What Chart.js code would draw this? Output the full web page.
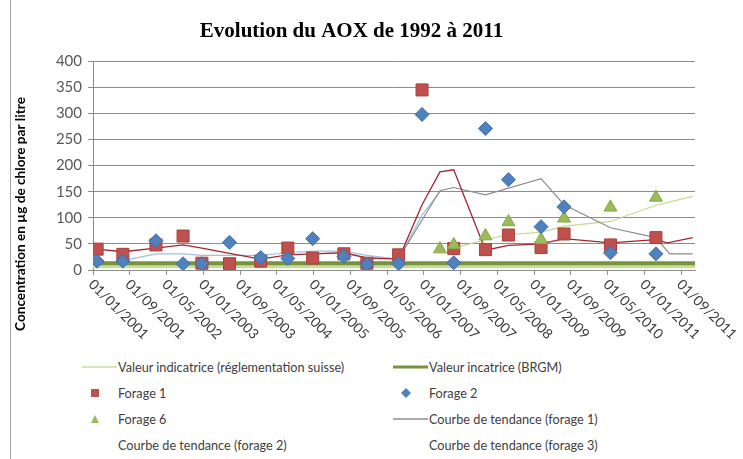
<!DOCTYPE html>
<html>
<head>
<meta charset="utf-8">
<script src="https://cdn.jsdelivr.net/npm/chart.js@4.4.1/dist/chart.umd.min.js"></script>
<style>
  body { margin: 0; background: #fff; }
  #wrap { position: relative; width: 743px; height: 459px; overflow: hidden; }
  #frame { position: absolute; left: 10px; top: 0; width: 1px; height: 459px; background: #a6a6a6; }
  #chart { position: absolute; left: 0; top: 0; }
  #legend { position: absolute; left: 0; top: 355px; width: 743px; font: 12.7px Lato, sans-serif; color: #404040; }
  .item { position: absolute; height: 20px; line-height: 20px; white-space: nowrap; }
  .item canvas { position: absolute; left: 0; top: 0; }
  .item span { position: absolute; left: 36px; top: 0; }
</style>
</head>
<body>
<div id="wrap">
  <canvas id="chart" width="743" height="355"></canvas>
  <div id="legend"></div>
  <div id="frame"></div>
</div>
<script>
// x values are months counted from 01/01/2001
var sampleMonths = [0.9, 6.5, 13.7, 19.6, 23.7, 29.7, 36.5, 42.4, 47.8, 54.6, 59.6, 66.5, 71.6, 75.5, 78.5, 85.4, 90.4, 97.5, 102.5, 112.6, 122.5];
var forage1 = [40, 30, 48, 65, 13, 12, 17, 42, 23, 31, 13, 29, 345, null, 41, 39, 67, 43, 69, 48, 62];
var forage2 = [17, 17, 56, 12, 12, 53, 24, 22, 60, 26, 11, 12, 298, null, 14, 271, 173, 83, 121, 33, 31];
var forage6 = [null, null, null, null, null, null, null, null, null, null, null, null, null, 40, 48, 65, 92, 58, 99, 120, 139];

// trend curves
var trend1Months = [0.9, 6.5, 13.7, 19.6, 23.7, 29.7, 36.5, 42.4, 47.8, 54.6, 59.6, 66.5, 71.6, 75.5, 78.5, 85.4, 90.4, 97.5, 102.5, 112.6, 122.5, 125, 130.5];
var trend1Values = [40, 35, 42, 48, 42, 32, 21, 29, 31, 33, 23, 21, 125, 188, 192, 38, 47, 50, 60, 52, 58, 52, 62];
var trendGrayMonths = [66.5, 75.5, 78.5, 85.4, 97.5, 102.5, 112.6, 122.5, 125.5, 130.5];
var trendGrayValues = [22, 152, 158, 144, 175, 125, 81, 62, 31, 31];
var trend2Months = [6.5, 13.7, 19.6, 23.7, 36.5, 42.4, 47.8, 54.6, 59.6, 66.5, 71.6, 75.5];
var trend2Values = [18, 31, 31, 28, 28, 33, 36, 36, 28, 21, 105, 150];
var trend3Months = [78.5, 85.4, 90.4, 97.5, 102.5, 112.6, 122.5, 130.5];
var trend3Values = [42, 58, 68, 72, 84, 93, 124, 141];

// reference levels
var axisMonths = [0, 131];
var valeurSuisse = [7, 7];
var valeurBRGM = [13, 13];

var xTickLabels = ['01/01/2001', '01/09/2001', '01/05/2002', '01/01/2003', '01/09/2003', '01/05/2004',
  '01/01/2005', '01/09/2005', '01/05/2006', '01/01/2007', '01/09/2007', '01/05/2008',
  '01/01/2009', '01/09/2009', '01/05/2010', '01/01/2011', '01/09/2011'];

function pts(xs, ys) {
  var out = [];
  for (var i = 0; i < xs.length; i++) {
    if (ys[i] !== null) out.push({ x: xs[i], y: ys[i] });
  }
  return out;
}

function lineSet(label, xs, ys, color, width, order, legendSample) {
  return {
    label: label, data: pts(xs, ys), showLine: true, borderColor: color, backgroundColor: color,
    borderWidth: width, pointRadius: 0, order: order, legendSample: legendSample
  };
}

var datasets = [
  lineSet('Valeur indicatrice (réglementation suisse)', axisMonths, valeurSuisse, '#c9dc9e', 4, 12, 'line'),
  lineSet('Valeur incatrice (BRGM)', axisMonths, valeurBRGM, '#77933c', 4, 11, 'line'),
  { label: 'Forage 1', data: pts(sampleMonths, forage1), pointStyle: 'rect', pointRadius: 8.5,
    backgroundColor: '#c0504d', borderColor: '#a8403d', borderWidth: 1, order: 3, legendSample: 'rect' },
  { label: 'Forage 2', data: pts(sampleMonths, forage2), pointStyle: 'rectRot', pointRadius: 7,
    backgroundColor: '#4f81bd', borderColor: '#3f6ea8', borderWidth: 1, order: 1, legendSample: 'rectRot' },
  { label: 'Forage 6', data: pts(sampleMonths, forage6), pointStyle: 'triangle', pointRadius: 7.5,
    backgroundColor: '#9bbb59', borderColor: '#88a74a', borderWidth: 1, order: 2, legendSample: 'triangle' },
  lineSet('Courbe de tendance (forage 1)', trendGrayMonths, trendGrayValues, '#8c8c8c', 1.2, 6, 'line'),
  lineSet('Courbe de tendance (forage 2)', trend2Months, trend2Values, '#9cc0e4', 1.2, 7, 'none'),
  lineSet('Courbe de tendance (forage 3)', trend3Months, trend3Values, '#c4d890', 1.2, 8, 'none'),
  lineSet('', trend1Months, trend1Values, '#a3262c', 1.3, 5, 'none')
];

// rotated date labels and the y title, drawn over the chart
var extraText = {
  id: 'extraText',
  afterDraw: function(chart) {
    var ctx = chart.ctx;
    var xs = chart.scales.x;
    ctx.save();
    ctx.font = '14px Lato';
    ctx.fillStyle = '#404040';
    ctx.textAlign = 'left';
    ctx.textBaseline = 'middle';
    xs.ticks.forEach(function(t, i) {
      var px = xs.getPixelForValue(t.value);
      ctx.save();
      ctx.translate(px - 2, xs.top + 12);
      ctx.rotate(Math.PI / 4);
      ctx.fillText(xTickLabels[i] || '', 0, 0);
      ctx.restore();
    });
    ctx.translate(21, 214);
    ctx.rotate(-Math.PI / 2);
    ctx.textAlign = 'center';
    ctx.font = 'bold 13.6px Lato';
    ctx.fillStyle = '#000';
    ctx.fillText('Concentration en µg de chlore par litre', 0, 0);
    ctx.restore();
  }
};

var chart = new Chart(document.getElementById('chart'), {
  type: 'scatter',
  data: { datasets: datasets },
  options: {
    responsive: false,
    animation: false,
    devicePixelRatio: 1,
    layout: { padding: { left: 8, right: 48, top: 0, bottom: 0 } },
    plugins: {
      legend: { display: false },
      tooltip: { enabled: false },
      title: {
        display: true,
        text: 'Evolution du AOX de 1992 à 2011',
        color: '#000',
        font: { family: 'Liberation Serif', size: 21, weight: 'bold' },
        padding: { top: 19, bottom: 17 }
      }
    },
    scales: {
      x: {
        type: 'linear', min: 0, max: 131,
        ticks: { stepSize: 8, includeBounds: false, display: false },
        grid: { drawOnChartArea: false, drawTicks: true, tickLength: 5, color: '#8c8c8c' },
        border: { color: '#8c8c8c' },
        afterFit: function(s) { s.height = 85; }
      },
      y: {
        min: 0, max: 400,
        ticks: { stepSize: 50, color: '#595959', font: { family: 'Lato', size: 15 }, padding: 6 },
        grid: { color: '#8c8c8c', tickLength: 5 },
        border: { color: '#8c8c8c' },
        afterFit: function(s) { s.width = 85; }
      }
    }
  },
  plugins: [extraText]
});

// legend in two columns, built from the datasets
var rowsY = [357, 383, 409, 435];
var colsX = [82, 393];
var legendEl = document.getElementById('legend');
var n = 0;
chart.data.datasets.forEach(function(ds) {
  if (!ds.label) return;
  var item = document.createElement('div');
  item.className = 'item';
  item.style.left = colsX[n % 2] + 'px';
  item.style.top = (rowsY[Math.floor(n / 2)] - 355) + 'px';
  var c = document.createElement('canvas');
  c.width = 35; c.height = 20;
  var g = c.getContext('2d');
  if (ds.legendSample === 'line') {
    g.strokeStyle = ds.borderColor;
    g.lineWidth = ds.label.indexOf('BRGM') >= 0 ? 3 : 1.5;
    g.beginPath(); g.moveTo(0, 10); g.lineTo(35, 10); g.stroke();
  } else if (ds.legendSample !== 'none') {
    g.fillStyle = ds.backgroundColor;
    g.beginPath();
    if (ds.legendSample === 'rect') g.rect(9, 6, 8, 8);
    else if (ds.legendSample === 'rectRot') { g.moveTo(13, 5); g.lineTo(18, 10); g.lineTo(13, 15); g.lineTo(8, 10); }
    else { g.moveTo(13, 6); g.lineTo(17, 14); g.lineTo(9, 14); }
    g.closePath(); g.fill();
  }
  item.appendChild(c);
  var s = document.createElement('span');
  s.textContent = ds.label;
  item.appendChild(s);
  legendEl.appendChild(item);
  n++;
});
</script>
</body>
</html>
